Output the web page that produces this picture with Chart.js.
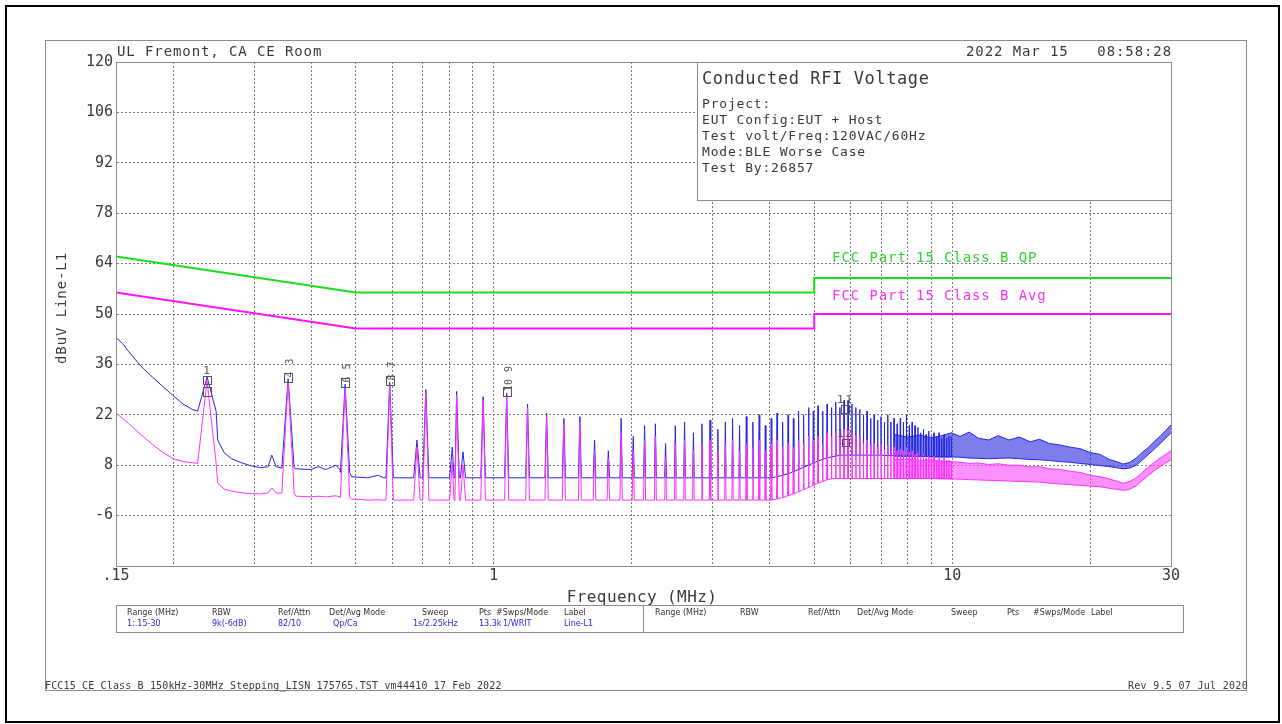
<!DOCTYPE html>
<html>
<head>
<meta charset="utf-8">
<title>Conducted RFI Voltage</title>
<script src="https://cdn.jsdelivr.net/npm/chart.js@4.4.1/dist/chart.umd.min.js"></script>
<style>
  html, body { margin: 0; padding: 0; background: #fff; overflow: hidden; }
  canvas { display: block; }
</style>
</head>
<body>
<canvas id="rfiChart" width="1282" height="724"></canvas>
<script>

  // ---- data ----
  const xGridMHz = [0.15, 0.2, 0.3, 0.4, 0.5, 0.6, 0.7, 0.8, 0.9, 1, 2, 3, 4, 5, 6, 7, 8, 9, 10, 20, 30];
  const xLabelMHz = [0.15, 1, 10, 30];
  const xLabelText = ['.15', '1', '10', '30'];
  const yTickDb = [-20, -6, 8, 22, 36, 50, 64, 78, 92, 106, 120];

  const limitMHz = [0.15, 0.5, 5, 5, 30];
  const qpLimitDb = [66, 56, 56, 60, 60];
  const avgLimitDb = [56, 46, 46, 50, 50];

  // lead-in / skirt samples of the two traces
  const sampleMHz = [0.150, 0.155, 0.160, 0.170, 0.180, 0.190, 0.200, 0.210, 0.220,
    0.250, 0.258, 0.268, 0.280, 0.294, 0.310, 0.322, 0.328, 0.335, 0.345,
    0.370, 0.400, 0.414, 0.430, 0.453, 0.462, 0.490, 0.530, 0.560, 0.575];
  const qpSampleDb = [43.5, 41.8, 39.5, 35.5, 32.5, 29.8, 27.3, 25, 23.5,
    15, 11.5, 9.8, 8.8, 7.9, 7.3, 7.6, 10.8, 7.6, 7.2,
    7, 6.8, 7.6, 6.8, 8, 6.7, 4.8, 4.5, 5.2, 4.5];
  const avgSampleDb = [22.5, 21, 19.5, 16.5, 13.8, 11.5, 9.8, 9, 8.7,
    3, 1.4, 0.8, 0.4, 0.1, 0, 0.3, 1.7, 0.3, 0.2,
    -0.6, -0.8, -0.6, -0.8, -0.5, -0.8, -1.4, -1.7, -1.6, -1.7];

  // harmonic spikes (comb) up to 10 MHz
  const peakMHz = [0.237, 0.356, 0.474, 0.593, 0.680, 0.711, 0.812, 0.830, 0.857, 0.948,
    1.067, 1.185, 1.304, 1.422, 1.541, 1.659, 1.778, 1.896, 2.015, 2.133,
    2.252, 2.370, 2.489, 2.607, 2.726, 2.844, 2.963, 3.081, 3.200, 3.318,
    3.437, 3.555, 3.674, 3.792, 3.911, 4.029, 4.148, 4.266, 4.385, 4.503,
    4.622, 4.740, 4.859, 4.977, 5.096, 5.214, 5.333, 5.451, 5.570, 5.688,
    5.807, 5.925, 6.044, 6.162, 6.281, 6.399, 6.518, 6.636, 6.755, 6.873,
    6.992, 7.110, 7.229, 7.347, 7.466, 7.584, 7.703, 7.821, 7.940, 8.058,
    8.177, 8.295, 8.414, 8.532, 8.651, 8.769, 8.888, 9.006, 9.125, 9.243,
    9.362, 9.480, 9.599, 9.717, 9.836, 9.954];
  const qpPeakDb = [32.5, 32, 30.5, 31, 15, 29, 13, 28.5, 11.7, 27,
    28, 25, 22.5, 21, 21.5, 15, 12, 21, 16, 19,
    19.5, 14, 19, 20, 17, 19.5, 20.5, 18, 20, 21,
    19, 21.5, 20, 22, 19, 21, 22.5, 20, 22, 21,
    23, 22, 24, 23, 24.5, 23, 25, 24, 25.5, 24,
    26, 26, 25, 24, 23.5, 22, 23, 21, 22, 20.5,
    21.5, 20, 22, 20, 21, 19.5, 21, 20, 22, 19,
    20, 19, 18.5, 17, 18, 16.5, 17.5, 16, 17, 16,
    17, 15.5, 16.5, 15.5, 16, 16];
  const qpBaseDb = [23, 7.2, 6, 4.5, 4.5, 4.5, 4.5, 4.5, 4.5, 4.5,
    4.5, 4.5, 4.5, 4.5, 4.5, 4.5, 4.5, 4.5, 4.5, 4.5,
    4.5, 4.5, 4.5, 4.5, 4.5, 4.5, 4.5, 4.5, 4.5, 4.5,
    4.5, 4.5, 4.5, 4.5, 4.5, 4.5, 4.8, 5.2, 5.6, 6.2,
    6.8, 7.4, 8, 8.6, 9.2, 9.6, 10, 10.3, 10.5, 10.8,
    10.8, 10.8, 10.8, 10.8, 10.8, 10.8, 10.8, 10.8, 10.8, 10.8,
    10.8, 10.7, 10.7, 10.7, 10.6, 10.6, 10.6, 10.5, 10.5, 10.5,
    10.5, 10.5, 10.5, 10.5, 10.5, 10.5, 10.3, 10.3, 10.3, 10.3,
    10.3, 10.3, 10.3, 10.3, 10.3, 10.3];
  const avgPeakDb = [31.5, 31, 29.5, 30, 13, 28, 9, 27.5, 8, 26,
    27, 24, 21.5, 19.5, 20, 12, 10, 17, 12, 15,
    16, 10, 14, 15, 12, 14, 15, 12, 14, 15,
    12, 14, 13, 15, 12, 14, 15, 13, 14, 13,
    15, 14, 16, 15, 16, 14, 17, 16, 17, 16,
    18, 18, 17, 16, 16, 14, 15, 13.5, 14, 13,
    14, 12.5, 13.5, 12, 13, 12, 12.5, 12, 13, 11.5,
    12, 11, 11.5, 10.5, 11, 10, 10.5, 10, 10.5, 9.5,
    10, 9.5, 10, 9.5, 9.5, 9];
  const avgBaseDb = [8.5, 0.3, -1, -1.7, -1.7, -1.7, -1.7, -1.7, -1.7, -1.7,
    -1.7, -1.7, -1.7, -1.7, -1.7, -1.7, -1.7, -1.7, -1.7, -1.7,
    -1.7, -1.7, -1.7, -1.7, -1.7, -1.7, -1.7, -1.7, -1.7, -1.7,
    -1.7, -1.7, -1.7, -1.7, -1.7, -1.7, -1.4, -1, -0.5, 0,
    0.6, 1.2, 1.8, 2.4, 3, 3.5, 3.9, 4.2, 4.3, 4.3,
    4.3, 4.3, 4.3, 4.3, 4.3, 4.3, 4.3, 4.3, 4.3, 4.3,
    4.3, 4.3, 4.3, 4.3, 4.3, 4.3, 4.3, 4.3, 4.3, 4.3,
    4.3, 4.3, 4.3, 4.3, 4.3, 4.3, 4.3, 4.3, 4.3, 4.3,
    4.3, 4.3, 4.3, 4.3, 4.3, 4.2];

  // where the comb turns solid: upper and lower edge of the band
  const bandMHz = [7.5, 8.0, 8.5, 9.0, 9.5, 9.96, 10.4, 10.9, 11.4, 12.0, 12.6, 13.3, 14.0, 14.8,
    15.5, 16.3, 17.2, 18.1, 19.0, 20.0, 21.0, 22.0, 22.8, 23.6, 24.4, 25.2, 26.0, 26.8,
    27.6, 28.4, 29.2, 30];
  const qpBandTopDb = [16.5, 15.8, 16.4, 15.6, 16.2, 17, 16, 17.2, 15.5, 15, 16.2, 15, 15.8, 14.5,
    15.2, 14, 13.6, 13, 12.6, 11.5, 11, 9.6, 9, 8.3, 8.8, 10, 11.6, 13,
    14.6, 16, 17.6, 19.2];
  const qpBandLowDb = [10.5, 10.5, 10.4, 10.4, 10.3, 10.3, 10.2, 10, 9.9, 9.8, 9.9, 10, 9.8, 9.6,
    9.5, 9.3, 9, 8.8, 8.5, 8.2, 7.9, 7.6, 7.3, 7, 7.2, 8, 9.5, 11,
    12.5, 14, 15.5, 17];
  const avgBandTopDb = [9.5, 9.8, 9.2, 9.5, 9, 9, 8.8, 8.5, 8.6, 8.2, 8.4, 8, 8, 7.5,
    7.6, 7, 6.8, 6.3, 6, 5.2, 4.8, 4.2, 3.6, 3, 3.5, 4.5, 6, 7.5,
    8.8, 10, 11, 12];
  const avgBandLowDb = [4.3, 4.3, 4.3, 4.3, 4.2, 4.2, 4.1, 4, 3.9, 3.8, 3.7, 3.6, 3.5, 3.4,
    3.3, 3, 2.8, 2.6, 2.4, 2.2, 2, 1.6, 1.3, 1, 1.3, 2.3, 3.8, 5.2,
    6.5, 7.6, 8.6, 9.5];

  // peak markers
  const markerMHz = [0.237, 0.356, 0.474, 0.593, 1.067, 5.84];
  const markerQpDb = [32.5, 32, 30.5, 31, 28, 24.5];
  const markerAvDb = [31.5, 31, 29.5, 30, 27, 15];
  const markerQpNo = ['1', '3', '5', '7', '9', '11'];
  const markerAvNo = ['2', '4', '6', '8', '10', '12'];

  // ---- helpers ----
  const FONT = '"DejaVu Sans Mono", monospace';
  const SPIKE_HALF_MHZ = 0.011;

  function toPoints(xs, ys) {
    return xs.map((x, i) => ({x: x, y: ys[i]}));
  }

  function buildTrace(peakDb, baseDb, sampleDb) {
    const pts = toPoints(sampleMHz, sampleDb);
    peakMHz.forEach((f, i) => {
      pts.push({x: f - SPIKE_HALF_MHZ, y: baseDb[i]});
      pts.push({x: f, y: peakDb[i]});
      pts.push({x: f + SPIKE_HALF_MHZ, y: baseDb[i]});
    });
    return pts.sort((a, b) => a.x - b.x);
  }

  function txt(ctx, s, x, y, size, color, align, ls) {
    ctx.font = size + 'px ' + FONT;
    ctx.letterSpacing = (ls || 0) + 'px';
    ctx.fillStyle = color;
    ctx.textAlign = align || 'left';
    ctx.textBaseline = 'alphabetic';
    ctx.fillText(s, x, y);
  }

  const BLUE = '#2626e6';
  const PINK = '#ff30ff';

  const datasets = [
    { data: toPoints(limitMHz, qpLimitDb), borderColor: '#18e018', borderWidth: 2, order: 0 },
    { data: toPoints(limitMHz, avgLimitDb), borderColor: '#ff10ff', borderWidth: 2, order: 0 },
    { data: buildTrace(avgPeakDb, avgBaseDb, avgSampleDb), borderColor: PINK, borderWidth: 1, order: 1 },
    { data: toPoints(bandMHz, avgBandTopDb), borderColor: PINK, borderWidth: 1, order: 1 },
    { data: toPoints(bandMHz, avgBandLowDb), borderColor: PINK, borderWidth: 1, order: 1,
      fill: {target: 3}, backgroundColor: 'rgba(255, 70, 255, 0.6)' },
    { data: buildTrace(qpPeakDb, qpBaseDb, qpSampleDb), borderColor: BLUE, borderWidth: 1, order: 2 },
    { data: toPoints(bandMHz, qpBandTopDb), borderColor: BLUE, borderWidth: 1, order: 2 },
    { data: toPoints(bandMHz, qpBandLowDb), borderColor: BLUE, borderWidth: 1, order: 2,
      fill: {target: 6}, backgroundColor: 'rgba(45, 45, 225, 0.62)' }
  ];

  const decor = {
    id: 'decor',
    beforeDraw(chart) {
      const ctx = chart.ctx;
      ctx.save();
      ctx.fillStyle = '#fff';
      ctx.fillRect(0, 0, chart.width, chart.height);
      ctx.restore();
    },
    afterDraw(chart) {
      const ctx = chart.ctx;
      const a = chart.chartArea;
      const xs = chart.scales.x, ys = chart.scales.y;
      ctx.save();

      // page frames
      ctx.strokeStyle = '#000';
      ctx.lineWidth = 2;
      ctx.strokeRect(6, 6, 1273, 716);
      ctx.strokeStyle = '#8c8c8c';
      ctx.lineWidth = 1;
      ctx.strokeRect(45.5, 40.5, 1201, 650);
      ctx.strokeRect(a.left + 0.5, a.top + 0.5, a.right - a.left, a.bottom - a.top);

      // info box
      ctx.fillStyle = '#fff';
      ctx.fillRect(697.5, 62.5, 474, 138);
      ctx.strokeRect(697.5, 62.5, 474, 138);
      txt(ctx, 'Conducted RFI Voltage', 702, 84, 17, '#3a3a3a', 'left', 0.6);
      const info = ['Project:', 'EUT Config:EUT + Host', 'Test volt/Freq:120VAC/60Hz',
        'Mode:BLE Worse Case', 'Test By:26857'];
      info.forEach((s, i) => txt(ctx, s, 702, 108 + i * 16, 13, '#3a3a3a', 'left', 0.8));

      // header / titles
      txt(ctx, 'UL Fremont, CA CE Room', 117, 56, 14, '#3a3a3a', 'left', 0.9);
      txt(ctx, '2022 Mar 15', 966, 56, 14, '#3a3a3a', 'left', 0.9);
      txt(ctx, '08:58:28', 1172, 56, 14, '#3a3a3a', 'right', 0.9);
      txt(ctx, 'Frequency (MHz)', 642, 602, 16, '#3a3a3a', 'center', 0.4);
      ctx.save();
      ctx.translate(66, 308);
      ctx.rotate(-Math.PI / 2);
      txt(ctx, 'dBuV Line-L1', 0, 0, 14, '#3a3a3a', 'center', 0.9);
      ctx.restore();

      // limit labels
      const lx = xs.getPixelForValue(5.47);
      txt(ctx, 'FCC Part 15 Class B QP', lx, ys.getPixelForValue(65.8) + 5, 14, '#2ad82a', 'left', 0.9);
      txt(ctx, 'FCC Part 15 Class B Avg', lx, ys.getPixelForValue(55.3) + 5, 14, '#ff30ff', 'left', 0.9);

      // markers
      ctx.strokeStyle = '#555';
      ctx.lineWidth = 1;
      markerMHz.forEach((f, i) => {
        const px = Math.round(xs.getPixelForValue(f)) + 0.5;
        const pq = Math.round(ys.getPixelForValue(markerQpDb[i])) + 0.5;
        const pa = Math.round(ys.getPixelForValue(markerAvDb[i])) + 0.5;
        const upright = (i === 0 || i === markerMHz.length - 1);
        if (upright) {
          txt(ctx, markerQpNo[i], px, pq - 4, 11, '#555', 'center', 2);
          ctx.strokeRect(px - 4, pq - 1, 8, 8);
          if (i === 0) {
            ctx.strokeRect(px - 4, pq + 10, 8, 9);
          } else {
            txt(ctx, markerAvNo[i], px, pa - 4, 11, '#555', 'center', 2);
            ctx.strokeRect(px - 3, pa - 1, 7, 7);
          }
        } else {
          ctx.save();
          ctx.translate(px + 4, pq - 2);
          ctx.rotate(-Math.PI / 2);
          txt(ctx, markerAvNo[i] + ' ' + markerQpNo[i], 0, 0, 10, '#555', 'left', 0.5);
          ctx.restore();
          ctx.strokeRect(px - 4, pq - 6, 8, 9);
        }
      });

      // settings table
      ctx.strokeStyle = '#8c8c8c';
      ctx.strokeRect(116.5, 605.5, 1067, 27);
      ctx.beginPath();
      ctx.moveTo(643.5, 605.5);
      ctx.lineTo(643.5, 632.5);
      ctx.stroke();
      const cell = (s, x, y, c) => {
        ctx.font = '8px "DejaVu Sans"';
        ctx.letterSpacing = '0px';
        ctx.fillStyle = c;
        ctx.textAlign = 'left';
        ctx.textBaseline = 'alphabetic';
        ctx.fillText(s, x, y);
      };
      const heads = ['Range (MHz)', 'RBW', 'Ref/Attn', 'Det/Avg Mode', 'Sweep', 'Pts', '#Swps/Mode', 'Label'];
      const headX1 = [127, 212, 278, 329, 422, 479, 496, 564];
      const headX2 = [655, 740, 808, 857, 951, 1007, 1033, 1091];
      heads.forEach((s, i) => { cell(s, headX1[i], 615, '#333'); cell(s, headX2[i], 615, '#333'); });
      const vals = ['1:.15-30', '9k(-6dB)', '82/10', 'Qp/Ca', '1s/2.25kHz', '13.3k', '1/WRIT', 'Line-L1'];
      const valX = [127, 212, 278, 333, 413, 479, 503, 564];
      vals.forEach((s, i) => cell(s, valX[i], 626, '#2a2ad8'));

      // footer
      txt(ctx, 'FCC15 CE Class B 150kHz-30MHz Stepping_LISN 175765.TST vm44410 17 Feb 2022', 45, 689, 10, '#3a3a3a', 'left', 0.15);
      txt(ctx, 'Rev 9.5 07 Jul 2020', 1248, 689, 10, '#3a3a3a', 'right', 0.3);

      ctx.restore();
    }
  };

  const config = {
    type: 'line',
    data: { datasets: datasets },
    options: {
      responsive: false,
      animation: false,
      devicePixelRatio: 1,
      layout: { padding: { left: 0, top: 62, right: 111, bottom: 0 } },
      plugins: {
        legend: { display: false },
        tooltip: { enabled: false }
      },
      elements: {
        point: { radius: 0 },
        line: { tension: 0, fill: false }
      },
      scales: {
        x: {
          type: 'logarithmic',
          min: 0.15,
          max: 30,
          afterFit(scale) { scale.height = 158; },
          afterBuildTicks(scale) { scale.ticks = xGridMHz.map(v => ({ value: v })); },
          ticks: {
            autoSkip: false,
            maxRotation: 0,
            padding: 1,
            color: '#3a3a3a',
            font: { family: FONT, size: 15 },
            callback(v) {
              const i = xLabelMHz.indexOf(v);
              return i < 0 ? '' : xLabelText[i];
            }
          },
          grid: { color: '#7c7c7c', lineWidth: 1, drawTicks: false },
          border: { display: true, color: '#8c8c8c', dash: [2, 2] }
        },
        y: {
          type: 'linear',
          min: -20,
          max: 120,
          afterFit(scale) { scale.width = 116; },
          afterBuildTicks(scale) { scale.ticks = yTickDb.map(v => ({ value: v })); },
          ticks: {
            padding: 3,
            color: '#3a3a3a',
            font: { family: FONT, size: 15 },
            callback(v) { return v === -20 ? '' : String(v); }
          },
          grid: { color: '#7c7c7c', lineWidth: 1, drawTicks: false },
          border: { display: true, color: '#8c8c8c', dash: [2, 2] }
        }
      }
    },
    plugins: [decor]
  };

  var rfiChart = new Chart(document.getElementById('rfiChart'), config);

</script>
</body>
</html>
